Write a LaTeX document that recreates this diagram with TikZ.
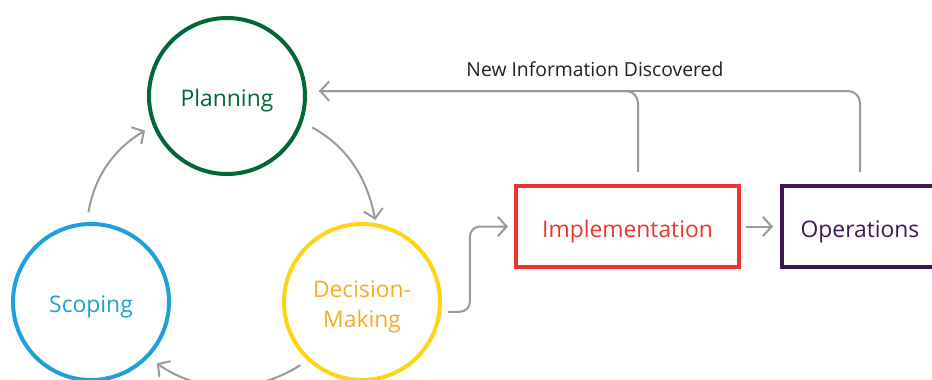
\documentclass[tikz,border=0pt]{standalone}
\usepackage{fontspec}
\setmainfont{Open Sans}
\usetikzlibrary{arrows.meta,positioning}
\definecolor{plangreen}{RGB}{0,104,55}
\definecolor{scopeblue}{RGB}{29,161,216}
\definecolor{decyellow}{RGB}{255,212,24}
\definecolor{decorange}{RGB}{247,170,40}
\definecolor{implred}{RGB}{233,55,43}
\definecolor{opspurple}{RGB}{62,24,82}
\definecolor{arrowgray}{RGB}{153,153,153}
\definecolor{labelblack}{RGB}{35,31,32}
\tikzset{
    %Define standard arrow tip
    >={Straight Barb[length=5pt,width=11pt]},
    %Define style for the cycle circles
    phase/.style={
           circle,
           line width=0.08cm,
           minimum size=3.12cm,
           inner sep=0pt,
           text height=12pt,
           text depth=0pt,
           font=\fontsize{13}{17}\selectfont,
           align=center},
    %Define style for the boxes
    stage/.style={
           rectangle,
           line width=0.08cm,
           minimum height=1.62cm,
           text height=12pt,
           text depth=0pt,
           font=\fontsize{13}{17}\selectfont,
           align=center},
    % Define arrow style
    flow/.style={
           ->,
           draw,
           color=arrowgray,
           line width=0.04cm},
    note/.style={
           text=labelblack,
           font=\fontsize{11}{13}\selectfont}
}
\begin{document}
\begin{tikzpicture}[on grid]
\useasboundingbox (0,0) rectangle (18.64,-7.58);
\node[phase, draw=plangreen, text=plangreen] (1) at (4.54,-1.92) {Planning};
\node[phase, draw=decyellow, text=decorange, text height=29pt, below right=4.12 and 2.70 of 1] (2) {Decision-\\Making};
\node[phase, draw=scopeblue, text=scopeblue, left=5.42 of 2] (3) {Scoping};
\node[stage, draw=implred, text=implred, minimum width=4.46cm, above right=1.51 and 5.31 of 2] (4) {Implementation};
\node[stage, draw=opspurple, text=opspurple, minimum width=3.12cm, right=4.65 of 4] (5) {Operations};
\coordinate (fb) at ([xshift=0.24cm,yshift=0.1cm]1.east);
% the cycle
\path
	(1.-19) edge[flow, bend left=25, shorten <=0.22cm, shorten >=0.07cm] (2.80)
	(2.227) edge[flow, bend left=34, shorten <=0.17cm, shorten >=0.2cm] (3.-44)
	(3.93) edge[flow, bend left=25, shorten <=0.2cm, shorten >=0.18cm] (1.202);
\draw[flow, rounded corners=0.2cm, shorten <=0.13cm, shorten >=0.12cm] (2.-7) -- ++(0.57,0) |- (4.west);
\path (4) edge[flow, shorten <=0.1cm, shorten >=0.14cm] (5);
% feedback loop
\draw[flow, rounded corners=0.24cm] ([yshift=0.24cm]5.north) |- (fb)
	node[note, pos=0.745, above=4pt] (6) {New Information Discovered};
\draw[flow, -, rounded corners=0.24cm] ([xshift=0.21cm,yshift=0.24cm]4.north) |- (fb);
\end{tikzpicture}
\end{document}
